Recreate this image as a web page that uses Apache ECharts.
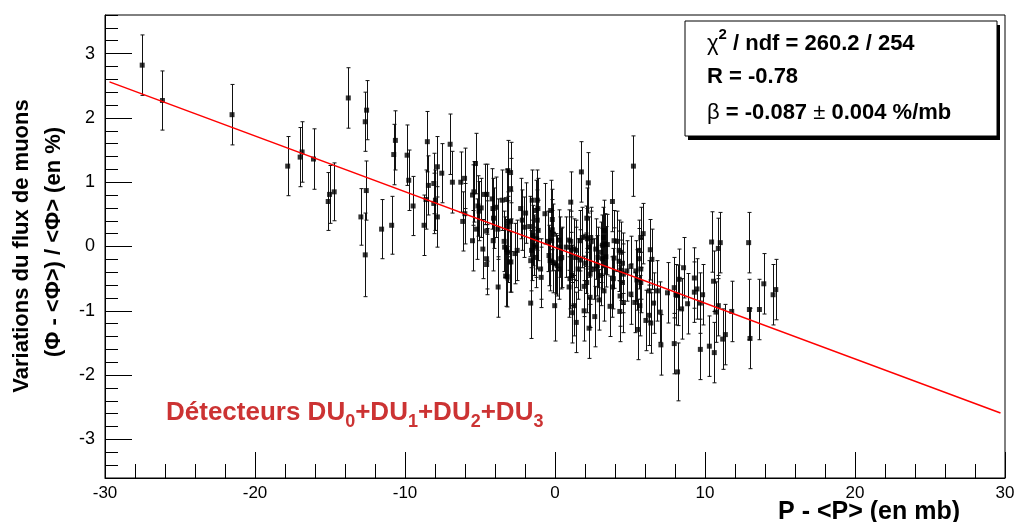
<!DOCTYPE html>
<html>
<head>
<meta charset="utf-8">
<script src="https://cdn.jsdelivr.net/npm/echarts@6/dist/echarts.min.js"></script>
<style>
html,body{margin:0;padding:0;background:#fff;}
#chart{width:1018px;height:522px;}
</style>
</head>
<body>
<div id="chart"></div>
<script>
// Pressure deviation P - <P> (mb)
const pressure = [-27.52,-26.17,-21.53,-17.82,-16.99,-16.86,-16.10,-15.12,-15.03,-14.72,-13.78,-12.94,-12.65,-12.65,-12.58,-12.56,-11.56,-10.89,-10.75,-10.64,
-9.86,-9.75,-9.46,-8.73,-8.60,-8.51,-8.44,-8.08,-8.08,-7.97,-7.84,-7.84,-7.55,-6.99,-6.84,-6.28,-6.15,-6.03,-6.01,-5.50,
-5.50,-5.41,-5.30,-5.23,-5.14,-5.06,-4.92,-4.81,-4.70,-4.56,-4.56,-4.56,-4.54,-4.19,-4.14,-4.12,-4.10,-3.96,-3.81,-3.79,
-3.52,-3.39,-3.36,-3.29,-3.23,-3.23,-3.19,-3.14,-3.14,-3.12,-3.12,-3.03,-2.96,-2.96,-2.96,-2.94,-2.67,-2.52,-2.29,-2.18,
-2.07,-1.96,-1.69,-1.62,-1.62,-1.56,-1.52,-1.45,-1.40,-1.29,-1.29,-1.29,-1.22,-1.18,-1.18,-1.14,-1.12,-0.96,-0.92,-0.67,
-0.49,-0.40,-0.33,-0.29,-0.22,-0.18,-0.18,-0.11,-0.11,-0.02,0.05,0.15,0.27,0.27,0.33,0.38,0.45,0.75,0.94,0.94,
1.00,1.05,1.05,1.05,1.12,1.16,1.27,1.27,1.38,1.42,1.42,1.54,1.67,1.67,1.76,1.82,1.94,1.94,2.05,2.05,
2.12,2.12,2.16,2.22,2.27,2.27,2.34,2.34,2.38,2.42,2.61,2.65,2.72,2.83,2.87,2.94,3.05,3.05,3.16,3.16,
3.23,3.27,3.27,3.32,3.39,3.49,3.67,3.83,3.83,3.89,3.94,3.94,4.12,4.28,4.28,4.32,4.34,4.39,4.39,4.50,
4.50,4.56,4.56,4.79,5.06,5.06,5.23,5.32,5.39,5.46,5.50,5.61,5.61,5.66,5.72,5.72,5.72,5.88,6.06,6.28,
6.28,6.35,6.39,6.46,6.57,6.83,7.01,7.06,7.50,7.95,7.95,8.06,8.17,8.17,8.28,8.44,8.57,8.84,9.29,9.29,
9.47,9.69,9.69,9.84,10.29,10.44,10.57,10.62,10.73,10.89,10.89,11.02,11.18,11.36,11.78,12.91,12.96,13.00,13.63,13.92,
14.54,14.72];
// Muon flux variation (%)
const fluxVar = [2.82,2.27,2.05,1.25,1.39,1.47,1.36,0.70,0.81,0.85,2.31,0.46,1.94,-0.13,0.87,2.12,0.27,0.33,1.43,1.65,
1.42,1.03,0.63,0.33,0.73,1.63,0.95,0.98,0.67,0.72,1.24,0.46,1.14,1.59,1.00,1.00,0.39,1.06,0.51,0.80,
0.09,0.85,1.29,0.27,0.63,0.55,0.60,-0.04,0.81,0.24,-0.19,-0.28,0.81,0.74,0.59,0.09,0.44,0.61,0.27,-0.63,
0.72,0.08,-0.01,-0.46,0.73,-0.05,-0.47,1.18,-0.09,0.38,0.31,-0.24,1.15,0.90,0.39,-0.24,-0.11,-0.06,0.59,0.41,
0.30,0.52,0.31,-0.22,-0.88,-0.06,0.72,0.17,0.02,0.56,-0.01,-0.17,0.12,0.72,0.41,0.59,0.25,-0.35,-0.48,0.51,
0.08,-0.14,-0.22,0.56,0.09,0.42,0.26,0.19,-0.25,-0.92,-0.27,-0.30,0.10,-0.35,-0.01,-0.19,-0.17,-0.01,0.10,-0.63,
-0.50,0.69,0.08,-0.01,-0.45,-1.03,-0.04,-0.92,-0.17,-0.06,-1.18,-0.35,0.09,-0.21,1.16,0.14,-0.62,-1.00,0.16,-0.26,
0.44,-0.56,0.12,0.99,-0.01,-1.27,-0.43,-0.79,0.14,0.08,-0.35,-1.09,-0.04,-0.30,-0.17,-0.83,-0.09,-0.45,0.02,-0.19,
0.14,0.25,-0.69,0.04,-0.16,0.03,-0.93,0.70,-0.63,-0.50,0.09,-0.18,0.08,-0.06,-0.23,-1.01,-0.77,-0.09,-0.37,-0.26,
-0.56,-0.43,-0.87,-0.38,-0.31,-0.74,1.25,-0.87,-0.38,-0.52,-1.29,-0.06,-0.19,-0.92,0.14,-0.35,-0.56,0.20,-1.15,-0.69,
-1.07,-0.05,-1.19,-0.20,-0.88,-0.69,-1.02,-1.53,-0.72,-0.64,-1.51,-0.75,-0.76,-1.95,-0.51,-0.97,-0.33,-0.89,-0.49,-0.71,
-0.66,-0.88,-1.60,-0.75,-1.55,0.07,-0.54,-1.65,-1.02,-0.03,-0.92,0.06,-1.44,-1.37,-1.01,0.06,-0.98,-1.43,-0.98,-0.58,
-0.75,-0.67];
// Uncertainty on the flux variation (%)
const fluxErr = [0.47,0.46,0.47,0.46,0.46,0.47,0.47,0.45,0.45,0.45,0.47,0.44,0.46,0.65,0.46,0.46,0.46,0.45,0.47,0.46,
0.47,0.47,0.46,0.47,0.46,0.47,0.46,0.47,0.47,0.47,0.47,0.47,0.46,0.47,0.48,0.47,0.46,0.47,0.47,0.47,
0.47,0.47,0.47,0.47,0.47,0.46,0.46,0.46,0.47,0.47,0.47,0.47,0.47,0.47,0.47,0.47,0.47,0.47,0.47,0.47,
0.47,0.47,0.47,0.47,0.47,0.47,0.47,0.47,0.47,0.47,0.47,0.47,0.47,0.47,0.47,0.47,0.47,0.47,0.47,0.47,
0.47,0.47,0.47,0.47,0.55,0.47,0.47,0.47,0.47,0.47,0.47,0.47,0.47,0.47,0.47,0.47,0.47,0.47,0.47,0.47,
0.47,0.47,0.47,0.47,0.47,0.47,0.47,0.47,0.47,0.55,0.47,0.47,0.47,0.47,0.47,0.47,0.47,0.47,0.47,0.47,
0.47,0.47,0.47,0.47,0.47,0.47,0.47,0.47,0.47,0.47,0.47,0.47,0.47,0.47,0.47,0.47,0.47,0.47,0.47,0.47,
0.47,0.47,0.47,0.47,0.47,0.47,0.47,0.47,0.47,0.47,0.47,0.47,0.47,0.47,0.47,0.47,0.47,0.47,0.47,0.47,
0.47,0.47,0.47,0.47,0.47,0.47,0.47,0.47,0.47,0.47,0.47,0.47,0.47,0.47,0.47,0.47,0.47,0.47,0.47,0.47,
0.47,0.47,0.47,0.47,0.47,0.47,0.47,0.47,0.47,0.47,0.47,0.47,0.47,0.47,0.47,0.47,0.47,0.47,0.47,0.47,
0.47,0.47,0.47,0.47,0.47,0.47,0.47,0.47,0.47,0.47,0.47,0.47,0.47,0.45,0.47,0.47,0.47,0.47,0.47,0.47,
0.47,0.47,0.47,0.47,0.47,0.47,0.47,0.47,0.47,0.47,0.47,0.47,0.47,0.47,0.47,0.47,0.47,0.47,0.47,0.47,
0.47,0.47];
// Fitted line endpoints (x in mb, y in %)
const fitX = [-29.7, 29.7];
const fitY = [2.56, -2.59];
const xTicks = [-30, -20, -10, 0, 10, 20, 30];
const yTicks = [-3, -2, -1, 0, 1, 2, 3];

const chart = echarts.init(document.getElementById('chart'), null, {renderer: 'canvas'});
const pts = pressure.map((x, i) => [x, fluxVar[i]]);
const bars = pressure.map((x, i) => [x, fluxVar[i] - fluxErr[i], fluxVar[i] + fluxErr[i]]);
const FONT = '"Liberation Sans", Arial, sans-serif';

function intLabel(v) {
  const r = Math.round(v);
  return (Math.abs(v - r) < 1e-6 && yTicks.indexOf(r) >= 0) ? String(r) : '';
}

const option = {
  animation: false,
  backgroundColor: '#fff',
  grid: {left: 105, right: 13, top: 15, bottom: 44, show: true, borderColor: '#000', borderWidth: 1, backgroundColor: 'transparent'},
  xAxis: {
    type: 'value', min: xTicks[0], max: xTicks[xTicks.length - 1], interval: 10,
    axisLine: {show: true, onZero: false, lineStyle: {color: '#000', width: 1}},
    axisTick: {show: true, inside: true, length: 26, lineStyle: {color: '#000'}},
    minorTick: {show: true, splitNumber: 5, length: 14, lineStyle: {color: '#000'}},
    splitLine: {show: false},
    axisLabel: {color: '#000', fontFamily: FONT, fontSize: 17, margin: 7}
  },
  yAxis: [
    {
      type: 'value', min: -3.6, max: 3.6, interval: 0.2,
      axisLine: {show: true, onZero: false, lineStyle: {color: '#000', width: 1}},
      axisTick: {show: true, inside: true, length: 13, lineStyle: {color: '#000'}},
      splitLine: {show: false},
      axisLabel: {color: '#000', fontFamily: FONT, fontSize: 18, margin: 10, formatter: intLabel, showMinLabel: true, showMaxLabel: true, hideOverlap: false}
    },
    {
      type: 'value', min: -3.6, max: 3.6, position: 'left',
      axisLine: {show: false, onZero: false},
      axisTick: {show: true, inside: true, length: 27, customValues: yTicks, lineStyle: {color: '#000'}},
      splitLine: {show: false},
      axisLabel: {show: false}
    }
  ],
  series: [
    {
      type: 'custom',
      data: bars,
      z: 2,
      silent: true,
      renderItem: function (params, api) {
        const x = api.value(0);
        const lo = api.coord([x, api.value(1)]);
        const hi = api.coord([x, api.value(2)]);
        const cx = Math.round(lo[0]) + 0.5;
        const style = {stroke: '#111', lineWidth: 1};
        return {
          type: 'group',
          children: [
            {type: 'line', shape: {x1: cx, y1: lo[1], x2: cx, y2: hi[1]}, style: style},
            {type: 'line', shape: {x1: cx - 2, y1: lo[1], x2: cx + 2, y2: lo[1]}, style: style},
            {type: 'line', shape: {x1: cx - 2, y1: hi[1], x2: cx + 2, y2: hi[1]}, style: style}
          ]
        };
      }
    },
    {
      type: 'scatter',
      data: pts,
      symbol: 'rect',
      symbolSize: 5,
      z: 3,
      itemStyle: {color: '#000'}
    },
    {
      type: 'line',
      data: fitX.map((x, i) => [x, fitY[i]]),
      symbol: 'none',
      z: 4,
      lineStyle: {color: '#ff0000', width: 1.5}
    }
  ],
  graphic: [
    {type: 'text', x: 22, y: 246, rotation: Math.PI / 2,
      style: {text: 'Variations du flux de muons', fontFamily: FONT, fontWeight: 'bold', fontSize: 22, fill: '#000', align: 'center', verticalAlign: 'middle'}},
    {type: 'text', x: 54, y: 242, rotation: Math.PI / 2,
      style: {text: '(Φ - <Φ>) / <Φ> (en %)', fontFamily: FONT, fontWeight: 'bold', fontSize: 22, fill: '#000', align: 'center', verticalAlign: 'middle'}},
    {type: 'text', x: 960, y: 512,
      style: {text: 'P - <P> (en mb)', fontFamily: FONT, fontWeight: 'bold', fontSize: 25, fill: '#000', align: 'right', verticalAlign: 'middle'}},
    {type: 'rect', shape: {x: 688, y: 25, width: 312, height: 115}, style: {fill: '#000'}, z: 10},
    {type: 'rect', shape: {x: 685, y: 21, width: 312, height: 115}, style: {fill: '#fff', stroke: '#000', lineWidth: 1}, z: 11},
    {type: 'text', x: 707, y: 41, z: 12,
      style: {text: '{g|χ}{sup|2}{b| / ndf = 260.2 / 254}', verticalAlign: 'middle', align: 'left',
        rich: {
          g: {fontFamily: FONT, fontSize: 22, fill: '#000', lineHeight: 28, verticalAlign: 'bottom'},
          sup: {fontFamily: FONT, fontSize: 15, fontWeight: 'bold', fill: '#000', lineHeight: 20, verticalAlign: 'top'},
          b: {fontFamily: FONT, fontSize: 22, fontWeight: 'bold', fill: '#000', lineHeight: 28, verticalAlign: 'bottom'}
        }}},
    {type: 'text', x: 707, y: 77, z: 12,
      style: {text: 'R = -0.78', fontFamily: FONT, fontSize: 22, fontWeight: 'bold', fill: '#000', verticalAlign: 'middle', align: 'left'}},
    {type: 'text', x: 707, y: 113, z: 12,
      style: {text: '{g|β}{b| = -0.087}{g| ± }{b|0.004 %/mb}', verticalAlign: 'middle', align: 'left',
        rich: {
          g: {fontFamily: FONT, fontSize: 22, fill: '#000'},
          b: {fontFamily: FONT, fontSize: 22, fontWeight: 'bold', fill: '#000'}
        }}},
    {type: 'text', x: 166, y: 413, z: 12,
      style: {text: '{m|Détecteurs DU}{s|0}{m|+DU}{s|1}{m|+DU}{s|2}{m|+DU}{s|3}', align: 'left', verticalAlign: 'middle',
        rich: {
          m: {fontFamily: FONT, fontSize: 26, fontWeight: 'bold', fill: '#cc3333', lineHeight: 36, verticalAlign: 'middle'},
          s: {fontFamily: FONT, fontSize: 18, fontWeight: 'bold', fill: '#cc3333', lineHeight: 18, verticalAlign: 'bottom'}
        }}}
  ]
};
chart.setOption(option);
</script>
</body>
</html>
